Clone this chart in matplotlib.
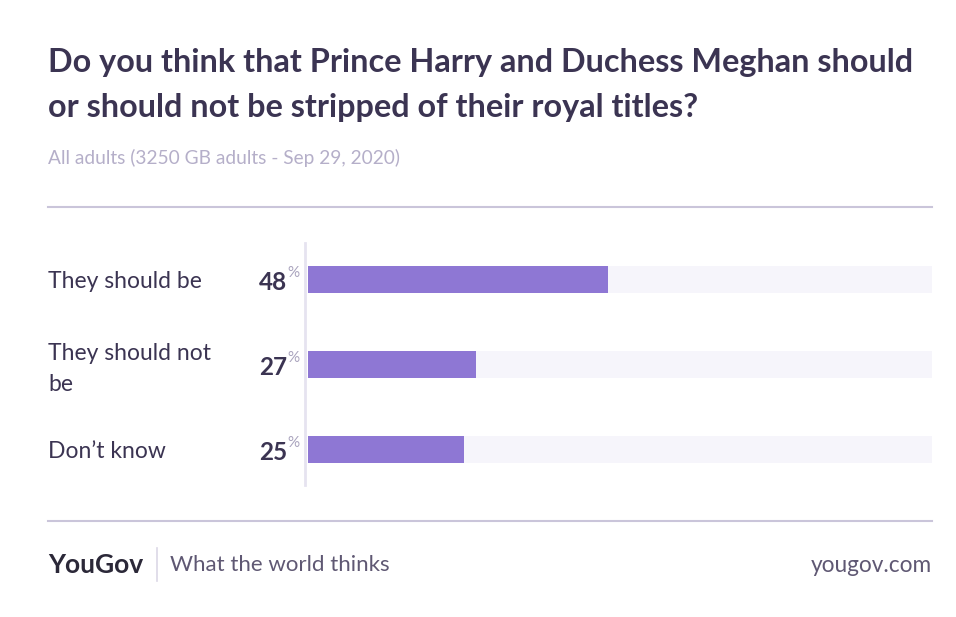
import matplotlib
matplotlib.use("Agg")
import matplotlib.pyplot as plt
from matplotlib.lines import Line2D
import matplotlib.transforms as mtransforms

categories = ["They should be", "They should not\nbe", "Don\u2019t know"]
values = [48, 27, 25]
title_lines = ["Do you think that Prince Harry and Duchess Meghan should",
               "or should not be stripped of their royal titles?"]
subtitle = "All adults (3250 GB adults - Sep 29, 2020)"

W, H = 956, 617
fig = plt.figure(figsize=(W / 100, H / 100), dpi=100)
fig.patch.set_facecolor("white")

def fx(px):
    return px / W

def fy(py):
    return 1 - py / H

FONT = "Lato"
DARK = "#3b3452"
BAR = "#8e77d4"
BG = "#f6f5fb"
LINE = "#cac5da"

# Title and subtitle (baseline aligned)
for py, line in zip([72, 117], title_lines):
    fig.text(fx(48), fy(py), line, fontsize=23.3, fontweight="bold", color=DARK,
             family=FONT, va="baseline", ha="left")
fig.text(fx(48), fy(158), subtitle, fontsize=13.8, color="#b5afc9", family=FONT,
         va="center", ha="left")

# Separator lines
fig.add_artist(Line2D([fx(48), fx(932)], [fy(207), fy(207)], color=LINE, lw=1.5))
fig.add_artist(Line2D([fx(48), fx(932)], [fy(521), fy(521)], color=LINE, lw=1.5))

# Bars axes
ax = fig.add_axes([fx(308), fy(485), fx(932) - fx(308), (485 - 243) / H])
ax.set_xlim(0, 100)
ax.set_ylim(2.418, -0.429)
ypos = list(range(len(categories)))
ax.barh(ypos, [100] * len(values), height=0.318, color=BG, linewidth=0)
ax.barh(ypos, values, height=0.318, color=BAR, linewidth=0)
ax.axis("off")

# vertical axis line
fig.add_artist(Line2D([fx(305), fx(305)], [fy(243), fy(485)], color="#e6e3f0", lw=2))

trans = mtransforms.blended_transform_factory(fig.transFigure, ax.transData)
for y, cat, v in zip(ypos, categories, values):
    t = fig.text(fx(48), 0, cat, transform=trans, fontsize=16.5, color=DARK, family=FONT,
                 va="center", ha="left", linespacing=1.6)
    t.set_y(y + (0.05 if "\n" in cat else 0.02))
    ax.text(fx(287), y + 0.04, f"{v}", transform=trans, fontsize=17.5, fontweight="bold",
            color=DARK, family=FONT, va="center", ha="right")
    ax.text(fx(287.5), y - 0.08, "%", transform=trans, fontsize=11,
            color="#a9a3bd", family=FONT, va="center", ha="left")

# Footer
fig.text(fx(48), fy(565), "YouGov", fontsize=19, fontweight="bold", color="#2b2838",
         family=FONT, va="center", ha="left")
fig.add_artist(Line2D([fx(157), fx(157)], [fy(548), fy(581)], color="#dcd8e6", lw=1.2))
fig.text(fx(170), fy(565), "What the world thinks", fontsize=16, color="#5f5873",
         family=FONT, va="center", ha="left")
fig.text(fx(932), fy(565), "yougov.com", fontsize=16.3, color="#5f5873",
         family=FONT, va="center", ha="right")

fig.savefig("out.png", dpi=100, facecolor="white")
